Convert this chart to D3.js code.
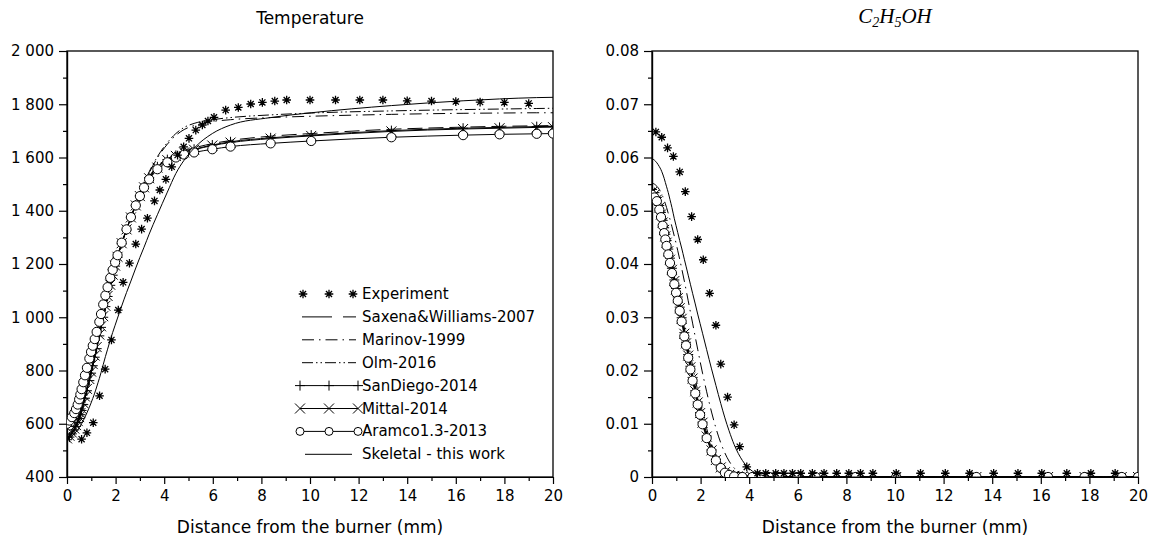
<!DOCTYPE html>
<html>
<head>
<meta charset="utf-8">
<script src="https://cdn.jsdelivr.net/npm/d3@7"></script>
<style>
body { margin: 0; background: #fff; }
text { font-family: "DejaVu Sans", sans-serif; fill: #000; }
.axis path, .axis line { stroke: #000; stroke-width: 1.2; }
.axis text { font-size: 15px; font-family: "DejaVu Sans", sans-serif; }
</style>
</head>
<body>
<script>

// model grid (mm) shared by all simulated profiles
var gridX = [0, 0.1, 0.2, 0.3, 0.37, 0.44, 0.5, 0.55, 0.6, 0.67,
	0.74, 0.82, 0.92, 0.99, 1.06, 1.14, 1.22, 1.33, 1.4, 1.49,
	1.58, 1.67, 1.78, 1.88, 1.98, 2.08, 2.25, 2.45, 2.63, 2.83,
	3.0, 3.17, 3.38, 3.72, 4.13, 4.48, 4.82, 5.23, 5.98, 6.73,
	8.38, 10.05, 13.35, 16.3, 17.8, 19.33, 20];

// temperature (K)
var tSaxena = [542,552,564,579,592,607,622,636,652,674, 698,726,764,792,820,852,884,932,964,1002,
	1041,1079,1121,1159,1193,1226,1277,1329,1375,1421, 1458,1492,1528,1568,1595,1610,1624,1636,1652,1664,
	1680,1690,1706,1714,1717,1719,1720];
var tMarinov = [540,550,562,577,590,605,620,634,650,672, 696,724,762,790,818,850,882,930,962,1000,
	1040,1078,1120,1158,1192,1225,1276,1328,1376,1424, 1462,1500,1542,1598,1650,1683,1705,1720,1735,1742,
	1750,1755,1762,1766,1767,1768,1768];
var tOlm = [540,550,562,577,590,605,620,634,650,672, 696,724,762,790,818,850,882,930,962,1000,
	1040,1078,1120,1158,1192,1225,1276,1328,1377,1426, 1464,1503,1546,1603,1656,1690,1713,1728,1742,1750,
	1760,1767,1775,1780,1782,1784,1785];
var tSanDiego = [540,550,562,577,590,605,620,634,650,672, 696,724,762,790,818,850,882,930,962,1000,
	1040,1078,1120,1158,1192,1225,1276,1328,1374,1420, 1456,1490,1525,1565,1592,1608,1621,1631,1647,1659,
	1674,1684,1701,1710,1713,1716,1717];
var tMittal = [545,555,567,582,595,610,625,640,656,678, 702,731,768,796,824,856,888,935,966,1004,
	1043,1080,1122,1160,1194,1227,1278,1330,1375,1420, 1455,1488,1522,1562,1590,1606,1619,1629,1645,1656,
	1671,1681,1698,1707,1710,1713,1714];
var tAramco = [600,612,625,640,655,672,692,710,730,756, 782,810,845,870,893,918,945,983,1012,1048,
	1082,1113,1148,1178,1206,1233,1280,1330,1376,1420, 1455,1487,1518,1556,1582,1600,1611,1619,1631,1641,
	1653,1662,1676,1684,1687,1689,1690];
var tSkeletal = [540,546,553,562,569,577,585,592,600,612, 625,641,662,678,695,715,738,770,792,822,
	852,880,914,943,970,997,1042,1093,1136,1185, 1225,1263,1312,1385,1470,1540,1590,1635,1690,1722,
	1750,1768,1795,1813,1820,1825,1826];

// C2H5OH mole fraction
var cSaxena = [0.0528,0.0524,0.0518,0.0506,0.0494,0.0480,0.0467,0.0456,0.0445,0.0430, 0.0414,0.0396,0.0375,0.0360,0.0344,0.0326,0.0307,0.0280,0.0262,0.0240,
	0.0218,0.0196,0.0171,0.0149,0.0129,0.0110,0.0082,0.0055,0.0036,0.0021, 0.0012,0.0006,0.0002,0.0001,0,0,0,0,0,0, 0,0,0,0,0,0,0];
var cMarinov = [0.0552,0.0550,0.0546,0.0540,0.0534,0.0527,0.0520,0.0513,0.0506,0.0495, 0.0484,0.0470,0.0452,0.0439,0.0425,0.0409,0.0392,0.0368,0.0352,0.0331,
	0.0310,0.0289,0.0263,0.0240,0.0217,0.0195,0.0160,0.0122,0.0092,0.0064, 0.0045,0.0030,0.0017,0.0006,0.0001,0,0,0,0,0, 0,0,0,0,0,0,0];
var cOlm = [0.0520,0.0517,0.0512,0.0503,0.0494,0.0483,0.0472,0.0462,0.0452,0.0438, 0.0423,0.0406,0.0385,0.0370,0.0355,0.0337,0.0318,0.0292,0.0275,0.0253,
	0.0231,0.0209,0.0184,0.0162,0.0141,0.0121,0.0091,0.0062,0.0041,0.0024, 0.0014,0.0007,0.0003,0.0001,0,0,0,0,0,0, 0,0,0,0,0,0,0];
var cSanDiego = [0.0540,0.0534,0.0525,0.0510,0.0497,0.0482,0.0468,0.0456,0.0444,0.0428, 0.0411,0.0392,0.0370,0.0354,0.0338,0.0319,0.0299,0.0271,0.0253,0.0230,
	0.0208,0.0187,0.0162,0.0141,0.0121,0.0103,0.0077,0.0051,0.0033,0.0019, 0.0010,0.0005,0.0002,0.0001,0,0,0,0,0,0, 0,0,0,0,0,0,0];
var cMittal = [0.0535,0.0530,0.0521,0.0506,0.0493,0.0478,0.0464,0.0452,0.0440,0.0424, 0.0408,0.0389,0.0368,0.0352,0.0336,0.0317,0.0297,0.0269,0.0251,0.0228,
	0.0206,0.0185,0.0161,0.0140,0.0120,0.0102,0.0076,0.0050,0.0032,0.0018, 0.0009,0.0004,0.0002,0.0001,0,0,0,0,0,0, 0,0,0,0,0,0,0];
var cAramco = [0.0530,0.0525,0.0518,0.0502,0.0488,0.0472,0.0458,0.0446,0.0434,0.0418, 0.0402,0.0383,0.0362,0.0346,0.0331,0.0312,0.0292,0.0264,0.0247,0.0224,
	0.0202,0.0181,0.0157,0.0136,0.0117,0.0099,0.0073,0.0048,0.0031,0.0017, 0.0008,0.0004,0.0001,0,0,0,0,0,0,0, 0,0,0,0,0,0,0];
var cSkeletal = [0.0598,0.0595,0.0590,0.0583,0.0577,0.0569,0.0561,0.0553,0.0545,0.0534, 0.0521,0.0506,0.0485,0.0472,0.0459,0.0444,0.0430,0.0409,0.0396,0.0379,
	0.0362,0.0345,0.0325,0.0306,0.0288,0.0270,0.0239,0.0203,0.0172,0.0138, 0.0111,0.0087,0.0061,0.0031,0.0011,0.0004,0.0001,0,0,0, 0,0,0,0,0,0,0];

// experiment
var expTx = [0.6,0.82,1.08,1.34,1.57,1.83,2.11,2.31,2.57,2.83,3.07,3.31,3.6,3.82,4.07,4.31,4.55,4.8,5.02,5.3,
	5.57,5.8,6.05,6.53,7.05,7.56,8.04,8.55,9.04,10,11.05,12.05,13,14,15,16,17,18,19];
var expT = [542,566,604,705,805,915,1027,1131,1203,1275,1331,1372,1437,1478,1518,1565,1609,1640,1672,1703,
	1722,1737,1751,1778,1788,1801,1807,1812,1816,1816,1816,1816,1816,1813,1812,1810,1808,1807,1803];
var expCx = [0.16,0.4,0.64,0.88,1.14,1.37,1.63,1.88,2.11,2.37,2.63,2.83,3.11,3.38,3.61,3.9,4.34,4.68,5.09,5.43,
	5.78,6.12,6.6,7.08,7.6,8.1,8.58,9.09,10.05,11.05,12.07,13.07,14.06,15.06,16.04,17.07,18.06,19.06];
var expC = [0.0648,0.0638,0.0618,0.0602,0.0573,0.0536,0.0489,0.0446,0.0408,0.0345,0.0285,0.0212,0.0150,0.0098,0.0057,0.0019,0.0007,0.0007,0.0007,0.0007,
	0.0007,0.0007,0.0007,0.0007,0.0007,0.0007,0.0007,0.0007,0.0007,0.0007,0.0007,0.0007,0.0007,0.0007,0.0007,0.0007,0.0007,0.0007];

// axes ticks
var xTicks = [0, 2, 4, 6, 8, 10, 12, 14, 16, 18, 20];
var xMinor = [1, 3, 5, 7, 9, 11, 13, 15, 17, 19];
var tTicks = [400, 600, 800, 1000, 1200, 1400, 1600, 1800, 2000];
var tMinor = [500, 700, 900, 1100, 1300, 1500, 1700, 1900];
var cTicks = [0, 0.01, 0.02, 0.03, 0.04, 0.05, 0.06, 0.07, 0.08];
var cMinor = [0.005, 0.015, 0.025, 0.035, 0.045, 0.055, 0.065, 0.075];

var models = [
	{name: "Saxena&Williams-2007", t: tSaxena, c: cSaxena, dash: "15,6", marker: null},
	{name: "Marinov-1999", t: tMarinov, c: cMarinov, dash: "12,5,1.5,5", marker: null},
	{name: "Olm-2016", t: tOlm, c: cOlm, dash: "11,3,1.5,3,1.5,3", marker: null},
	{name: "SanDiego-2014", t: tSanDiego, c: cSanDiego, dash: null, marker: "plus"},
	{name: "Mittal-2014", t: tMittal, c: cMittal, dash: null, marker: "cross"},
	{name: "Aramco1.3-2013", t: tAramco, c: cAramco, dash: null, marker: "circle"},
	{name: "Skeletal - this work", t: tSkeletal, c: cSkeletal, dash: null, marker: null}
];

var height = 426, top0 = 51;

var svg = d3.select("body").append("svg")
	.attr("width", 1151)
	.attr("height", 541);

function markerPath(type, r) {
	if (type == "plus") return "M0," + (-r) + "V" + r + "M" + (-r) + ",0H" + r;
	if (type == "cross") return "M" + (-r) + "," + (-r) + "L" + r + "," + r + "M" + (-r) + "," + r + "L" + r + "," + (-r);
	// asterisk
	var d = r * 0.7071;
	return "M0," + (-r) + "V" + r + "M" + (-r) + ",0H" + r +
		"M" + (-d) + "," + (-d) + "L" + d + "," + d + "M" + (-d) + "," + d + "L" + d + "," + (-d);
}

function addMarker(sel, type, r) {
	if (type == "circle") {
		sel.append("circle").attr("r", r)
			.attr("fill", "#fff").attr("stroke", "#000").attr("stroke-width", 1);
	} else {
		sel.append("path").attr("d", markerPath(type, r))
			.attr("fill", "none").attr("stroke", "#000")
			.attr("stroke-width", type == "star" ? 1.3 : 1);
	}
}

var fmtT = d3.formatLocale({decimal: ".", thousands: " ", grouping: [3], currency: ["", ""]}).format(",");
var fmtC = function(d) { return d === 0 ? "0" : d3.format(".2f")(d); };

function drawPanel(opt) {
	var width = opt.right - opt.left;
	var x = d3.scaleLinear().domain([0, 20]).range([0, width]);
	var y = d3.scaleLinear().domain(opt.domain).range([height, 0]);

	var main = svg.append("g")
		.attr("transform", "translate(" + opt.left + "," + top0 + ")");

	main.append("clipPath").attr("id", opt.id)
		.append("rect").attr("width", width).attr("height", height);

	// axes
	main.append("g").attr("class", "axis")
		.attr("transform", "translate(0," + height + ")")
		.call(d3.axisBottom(x).tickValues(xTicks).tickSize(7).tickSizeOuter(0).tickPadding(6).tickFormat(d3.format("d")));
	main.append("g").attr("class", "axis")
		.attr("transform", "translate(0," + height + ")")
		.call(d3.axisBottom(x).tickValues(xMinor).tickSize(4).tickSizeOuter(0).tickFormat(""));
	main.append("g").attr("class", "axis")
		.call(d3.axisLeft(y).tickValues(opt.ticks).tickSize(8).tickSizeOuter(0).tickPadding(5).tickFormat(opt.fmt));
	main.append("g").attr("class", "axis")
		.call(d3.axisLeft(y).tickValues(opt.minor).tickSize(4).tickSizeOuter(0).tickFormat(""));

	main.append("rect")
		.attr("width", width).attr("height", height)
		.attr("fill", "none").attr("stroke", "#000").attr("stroke-width", 1.3);

	var plot = main.append("g").attr("clip-path", "url(#" + opt.id + ")");

	var line = d3.line()
		.x(function(d) { return x(d[0]); })
		.y(function(d) { return y(d[1]); })
		.curve(d3.curveMonotoneX);

	models.forEach(function(m) {
		var pts = gridX.map(function(v, i) { return [v, m[opt.key][i]]; });
		plot.append("path")
			.datum(pts)
			.attr("d", line)
			.attr("fill", "none")
			.attr("stroke", "#000")
			.attr("stroke-width", 1)
			.attr("stroke-dasharray", m.dash);
		if (m.marker) {
			plot.selectAll(null)
				.data(pts)
				.enter().append("g")
				.attr("transform", function(d) { return "translate(" + x(d[0]) + "," + y(d[1]) + ")"; })
				.each(function() { addMarker(d3.select(this), m.marker, m.marker == "circle" ? 4.6 : 5); });
		}
	});

	var expPts = opt.expX.map(function(v, i) { return [v, opt.expY[i]]; });
	plot.selectAll(null)
		.data(expPts)
		.enter().append("g")
		.attr("transform", function(d) { return "translate(" + x(d[0]) + "," + y(d[1]) + ")"; })
		.each(function() { addMarker(d3.select(this), "star", 4.3); });

	// x label
	main.append("text")
		.attr("x", width / 2).attr("y", 482)
		.attr("text-anchor", "middle")
		.style("font-size", "17px")
		.text("Distance from the burner (mm)");

	return main;
}

var left = drawPanel({id: "clipT", left: 67, right: 553, domain: [400, 2000], ticks: tTicks, minor: tMinor,
	fmt: fmtT, key: "t", expX: expTx, expY: expT});
var right = drawPanel({id: "clipC", left: 652, right: 1138, domain: [0, 0.08], ticks: cTicks, minor: cMinor,
	fmt: fmtC, key: "c", expX: expCx, expY: expC});

// titles
svg.append("text")
	.attr("x", 310).attr("y", 24)
	.attr("text-anchor", "middle")
	.style("font-size", "17px")
	.text("Temperature");

var ttl = svg.append("text")
	.attr("x", 895).attr("y", 23)
	.attr("text-anchor", "middle")
	.style("font-family", "'Liberation Serif', serif")
	.style("font-style", "italic")
	.style("font-size", "21px");
ttl.append("tspan").text("C");
ttl.append("tspan").attr("dy", 4).style("font-size", "14px").text("2");
ttl.append("tspan").attr("dy", -4).text("H");
ttl.append("tspan").attr("dy", 4).style("font-size", "14px").text("5");
ttl.append("tspan").attr("dy", -4).text("OH");

// legend
var legend = svg.append("g").attr("transform", "translate(300,294)");
var rowH = 22.9;
var lx = [0, 29, 58];
var sx = [3, 29, 53];

var r0 = legend.append("g");
sx.forEach(function(v) {
	addMarker(r0.append("g").attr("transform", "translate(" + v + ",0)"), "star", 4.3);
});
r0.append("text").attr("x", 62).attr("y", 5).style("font-size", "15px").text("Experiment");

models.forEach(function(m, i) {
	var row = legend.append("g").attr("transform", "translate(0," + ((i + 1) * rowH) + ")");
	var x0 = m.marker ? 0 : 2, x1 = m.marker ? 58 : 56;
	if (m.name == "Skeletal - this work") { x0 = 5; x1 = 52; }
	row.append("line")
		.attr("x1", x0).attr("x2", x1)
		.attr("stroke", "#000").attr("stroke-width", 1)
		.attr("stroke-dasharray", m.dash ? (m.name == "Saxena&Williams-2007" ? "30,11" : m.dash) : null);
	if (m.marker) {
		lx.forEach(function(v) {
			addMarker(row.append("g").attr("transform", "translate(" + v + ",0)"), m.marker, m.marker == "circle" ? 4 : 5);
		});
	}
	row.append("text").attr("x", 62).attr("y", 5).style("font-size", "15px").text(m.name);
});

</script>
</body>
</html>
